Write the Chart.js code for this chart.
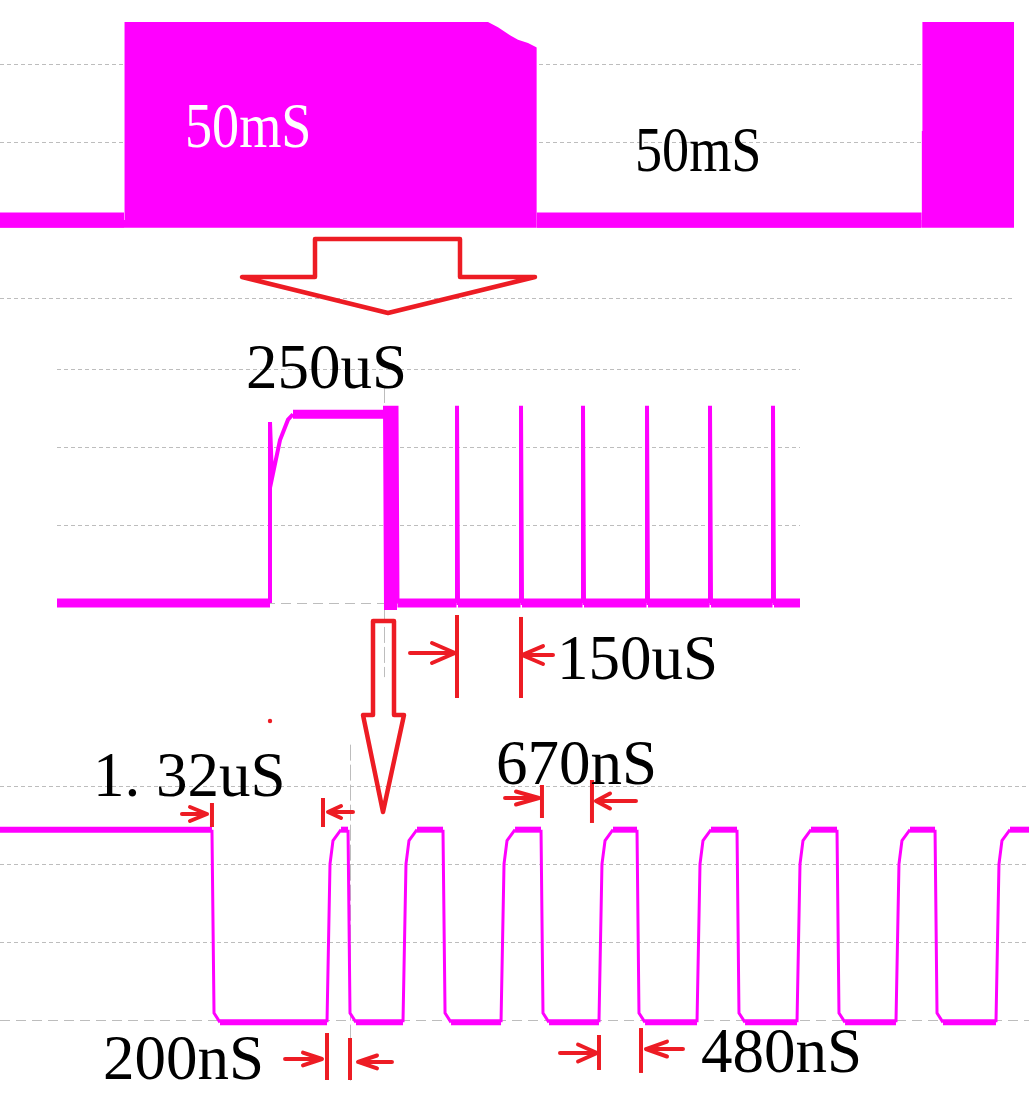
<!DOCTYPE html>
<html>
<head>
<meta charset="utf-8">
<script src="https://cdn.jsdelivr.net/npm/chart.js@4.4.1/dist/chart.umd.min.js"></script>
<style>
  html, body { margin: 0; padding: 0; background: #fff; }
  #wrap { position: relative; width: 1029px; height: 1113px; overflow: hidden; }
  #scope { position: absolute; left: 0; top: 0; }
  .lbl { position: absolute; font-family: 'Liberation Serif', 'Times New Roman', serif; font-size: 63px; line-height: 63px; white-space: nowrap; color: #000; transform-origin: 0 0; }
</style>
</head>
<body>
<div id="wrap">
  <canvas id="scope" width="1029" height="1113"></canvas>
  <div class="lbl" style="left:185px; top:95px; color:#fff; transform:scaleX(0.86)">50mS</div>
  <div class="lbl" style="left:635px; top:119px; transform:scaleX(0.86)">50mS</div>
  <div class="lbl" style="left:246px; top:336px">250uS</div>
  <div class="lbl" style="left:557px; top:627px">150uS</div>
  <div class="lbl" style="left:93px; top:744px">1. 32uS</div>
  <div class="lbl" style="left:496px; top:732px">670nS</div>
  <div class="lbl" style="left:103px; top:1027px">200nS</div>
  <div class="lbl" style="left:701px; top:1020px">480nS</div>
</div>
<script>
// top trace: 50 ms on / 50 ms off burst (time in ms, level in divisions)
var p1Time  = [0, 15.5, 15.5, 15.6, 15.6, 61.0, 62.25, 63.75, 64.75, 66.0, 67.1, 67.1, 115.2, 115.2, 115.3, 115.3, 126.75, 126.75];
var p1Level = [0, 0, 1.14, 1.14, 2.54, 2.54, 2.47, 2.37, 2.31, 2.27, 2.21, 0, 0, 1.14, 1.14, 2.54, 2.54, 0];

// middle trace: 250 us pulse then 150 us spikes (time in us)
var p2Time  = [0, 511.2, 511.2, 516.0, 535.2, 554.4, 566.4, 787.2, 787.2, 789.6, 793.2, 796.8, 800.4, 804.0, 807.6, 811.2, 814.8, 817.2,
  958.8, 960.0, 962.4, 1112.4, 1113.6, 1116.0, 1261.2, 1262.4, 1264.8, 1414.8, 1416.0, 1418.4,
  1566.0, 1567.2, 1569.6, 1717.2, 1718.4, 1720.8, 1783.2];
var p2Level = [0, 0, 2.32, 1.60, 2.09, 2.35, 2.42, 2.42, 2.53, -0.09, 2.53, -0.09, 2.53, -0.09, 2.53, -0.09, 2.53, 0,
  0, 2.53, 0, 0, 2.53, 0, 0, 2.53, 0, 0, 2.53, 0,
  0, 2.53, 0, 0, 2.53, 0, 0];

// bottom trace: data bits (time in ns)
var p3Time  = [0, 2480, 2504, 2574,
  3826, 3861, 3896, 3990, 4072, 4095, 4165,
  4715, 4750, 4785, 4879, 5183, 5207, 5277,
  5862, 5897, 5932, 6026, 6330, 6353, 6423,
  7008, 7043, 7079, 7172, 7453, 7476, 7547,
  8155, 8190, 8225, 8319, 8623, 8646, 8717,
  9325, 9360, 9395, 9489, 9793, 9816, 9887,
  10483, 10518, 10553, 10647, 10940, 10963, 11033,
  11653, 11688, 11723, 11817, 12039];
var p3Level = [2.44, 2.44, 0.09, -0.03,
  -0.03, 2.0, 2.3, 2.44, 2.44, 0.09, -0.03,
  -0.03, 2.0, 2.3, 2.44, 2.44, 0.09, -0.03,
  -0.03, 2.0, 2.3, 2.44, 2.44, 0.09, -0.03,
  -0.03, 2.0, 2.3, 2.44, 2.44, 0.09, -0.03,
  -0.03, 2.0, 2.3, 2.44, 2.44, 0.09, -0.03,
  -0.03, 2.0, 2.3, 2.44, 2.44, 0.09, -0.03,
  -0.03, 2.0, 2.3, 2.44, 2.44, 0.09, -0.03,
  -0.03, 2.0, 2.3, 2.44, 2.44];

// grid rows per panel: [panel, level, from, to, dash]
var gridRows = [
  [1, 2, 0, 126.75, 's'], [1, 1, 0, 126.75, 's'], [1, 0, 0, 126.75, 's'], [1, -1, 0, 126.75, 's'],
  [2, 3, 0, 1783.2, 's'], [2, 2, 0, 1783.2, 's'], [2, 1, 0, 1783.2, 's'], [2, 0, 0, 1783.2, 'l'],
  [3, 3, 0, 12039, 's'], [3, 2, 0, 12039, 's'], [3, 1, 0, 12039, 's'], [3, 0, 0, 12039, 'l']
];
// trigger cursors: [panel, time, top level, bottom level]
var cursors = [[2, 784.8, 2.77, -0.95], [3, 4095, 3.53, -0.81]];

// red zoom arrows and measurement marks, in panel units
var bigArrows = [
  [1, [[39.375, -0.244], [57.5, -0.244], [57.5, -0.731], [66.875, -0.731], [48.5, -1.192], [30.25, -0.731], [39.375, -0.731]]],
  [2, [[758.4, -0.231], [808.8, -0.231], [808.8, -1.436], [832.8, -1.436], [782.4, -2.679], [734.4, -1.436], [758.4, -1.436]]]
];
var redTicks = [
  [2, 960, -0.154, -1.218], [2, 1113.6, -0.179, -1.218],
  [3, 2480, 2.782, 2.474], [3, 3779, 2.846, 2.474],
  [3, 6341, 3.013, 2.590], [3, 6926, 3.077, 2.526],
  [3, 3826, -0.167, -0.769], [3, 4095, -0.231, -0.769],
  [3, 7008, -0.192, -0.641], [3, 7500, -0.103, -0.679]
];
// [panel, tail, tip, level, wing x, wing half height]
var redArrows = [
  [2, 847.2, 955.2, -0.641, 900, 0.128],
  [2, 1190.4, 1116, -0.667, 1166.4, 0.115],
  [3, 2129, 2422, 2.641, 2223, 0.09],
  [3, 4130, 3838, 2.667, 3990, 0.077],
  [3, 5909, 6306, 2.846, 6037, 0.083],
  [3, 7441, 6973, 2.808, 7137, 0.096],
  [3, 3335, 3767, -0.5, 3545, 0.083],
  [3, 4586, 4189, -0.538, 4411, 0.083],
  [3, 6552, 6985, -0.423, 6763, 0.109],
  [3, 7991, 7558, -0.372, 7804, 0.096]
];
var redDot = [3, 3159, 3.833];

var MAG = '#ff00ff';
var RED = '#ed1c24';

function pts(xs, ys) {
  return xs.map(function (x, i) { return { x: x, y: ys[i] }; });
}
function flat(c) { return c.p0.parsed.y === c.p1.parsed.y; }

var scopeDecor = {
  id: 'scopeDecor',
  beforeDatasetsDraw: function (chart) {
    var ctx = chart.ctx;
    function P(p, x, y) {
      return [chart.scales['x' + p].getPixelForValue(x), chart.scales['y' + p].getPixelForValue(y)];
    }
    ctx.save();
    ctx.strokeStyle = '#bdbdbd';
    ctx.lineWidth = 1;
    gridRows.forEach(function (g) {
      var a = P(g[0], g[2], g[1]), b = P(g[0], g[3], g[1]);
      var y = Math.round(a[1]) + 0.5;
      ctx.setLineDash(g[4] === 's' ? [4, 3] : [10, 6]);
      ctx.beginPath();
      ctx.moveTo(a[0], y);
      ctx.lineTo(b[0], y);
      ctx.stroke();
    });
    ctx.setLineDash([16, 4]);
    cursors.forEach(function (c) {
      var a = P(c[0], c[1], c[2]), b = P(c[0], c[1], c[3]);
      var x = Math.round(a[0]) + 0.5;
      ctx.beginPath();
      ctx.moveTo(x, a[1]);
      ctx.lineTo(x, b[1]);
      ctx.stroke();
    });
    ctx.restore();
  },
  afterDatasetsDraw: function (chart) {
    var ctx = chart.ctx;
    function P(p, x, y) {
      return [chart.scales['x' + p].getPixelForValue(x), chart.scales['y' + p].getPixelForValue(y)];
    }
    ctx.save();
    ctx.strokeStyle = RED;
    ctx.fillStyle = RED;

    ctx.lineWidth = 4.5;
    ctx.lineJoin = 'round';
    bigArrows.forEach(function (s) {
      ctx.beginPath();
      s[1].forEach(function (q, i) {
        var a = P(s[0], q[0], q[1]);
        if (i === 0) ctx.moveTo(a[0], a[1]); else ctx.lineTo(a[0], a[1]);
      });
      ctx.closePath();
      ctx.stroke();
    });

    ctx.lineWidth = 4;
    ctx.lineCap = 'butt';
    redTicks.forEach(function (t) {
      var a = P(t[0], t[1], t[2]), b = P(t[0], t[1], t[3]);
      ctx.beginPath();
      ctx.moveTo(a[0], a[1]);
      ctx.lineTo(b[0], b[1]);
      ctx.stroke();
    });

    ctx.lineCap = 'round';
    redArrows.forEach(function (r) {
      var tail = P(r[0], r[1], r[3]), tip = P(r[0], r[2], r[3]);
      var w1 = P(r[0], r[4], r[3] + r[5]), w2 = P(r[0], r[4], r[3] - r[5]);
      ctx.beginPath();
      ctx.moveTo(tail[0], tail[1]);
      ctx.lineTo(tip[0], tip[1]);
      ctx.moveTo(w1[0], w1[1]);
      ctx.lineTo(tip[0], tip[1]);
      ctx.lineTo(w2[0], w2[1]);
      ctx.stroke();
    });

    var d = P(redDot[0], redDot[1], redDot[2]);
    ctx.beginPath();
    ctx.arc(d[0], d[1], 2.2, 0, Math.PI * 2);
    ctx.fill();
    ctx.restore();
  }
};

new Chart(document.getElementById('scope'), {
  type: 'line',
  data: {
    datasets: [{
      label: '50mS burst',
      xAxisID: 'x1', yAxisID: 'y1',
      data: pts(p1Time, p1Level),
      borderWidth: 15,
      borderColor: MAG,
      backgroundColor: MAG,
      fill: { value: -0.1 },
      segment: {
        borderColor: function (c) { return flat(c) && c.p0.parsed.y === 0 ? MAG : 'rgba(255,0,255,0)'; }
      }
    }, {
      label: '250uS pulse',
      xAxisID: 'x2', yAxisID: 'y2',
      data: pts(p2Time, p2Level),
      borderColor: MAG,
      borderWidth: 4,
      fill: false,
      segment: {
        borderWidth: function (c) { return flat(c) ? 9 : 4; }
      }
    }, {
      label: 'bits',
      xAxisID: 'x3', yAxisID: 'y3',
      data: pts(p3Time, p3Level),
      borderColor: MAG,
      borderWidth: 3,
      fill: false,
      segment: {
        borderWidth: function (c) { return flat(c) ? 6 : 3; }
      }
    }]
  },
  options: {
    responsive: false,
    animation: false,
    events: [],
    layout: { padding: 0 },
    elements: {
      point: { radius: 0 },
      line: { tension: 0, borderJoinStyle: 'miter', borderCapStyle: 'butt' }
    },
    datasets: { line: { clip: false } },
    plugins: {
      legend: { display: false },
      tooltip: { enabled: false },
      title: { display: false }
    },
    scales: {
      x1: { type: 'linear', display: false, min: 0, max: 128.625 },
      y1: { type: 'linear', display: false, min: -11.44872, max: 2.82051 },
      x2: { type: 'linear', display: false, min: -136.8, max: 2332.8 },
      y2: { type: 'linear', display: false, min: -6.53846, max: 7.73077 },
      x3: { type: 'linear', display: false, min: 0, max: 12039.3 },
      y3: { type: 'linear', display: false, min: -1.19231, max: 13.07692 }
    }
  },
  plugins: [scopeDecor]
});
</script>
</body>
</html>
